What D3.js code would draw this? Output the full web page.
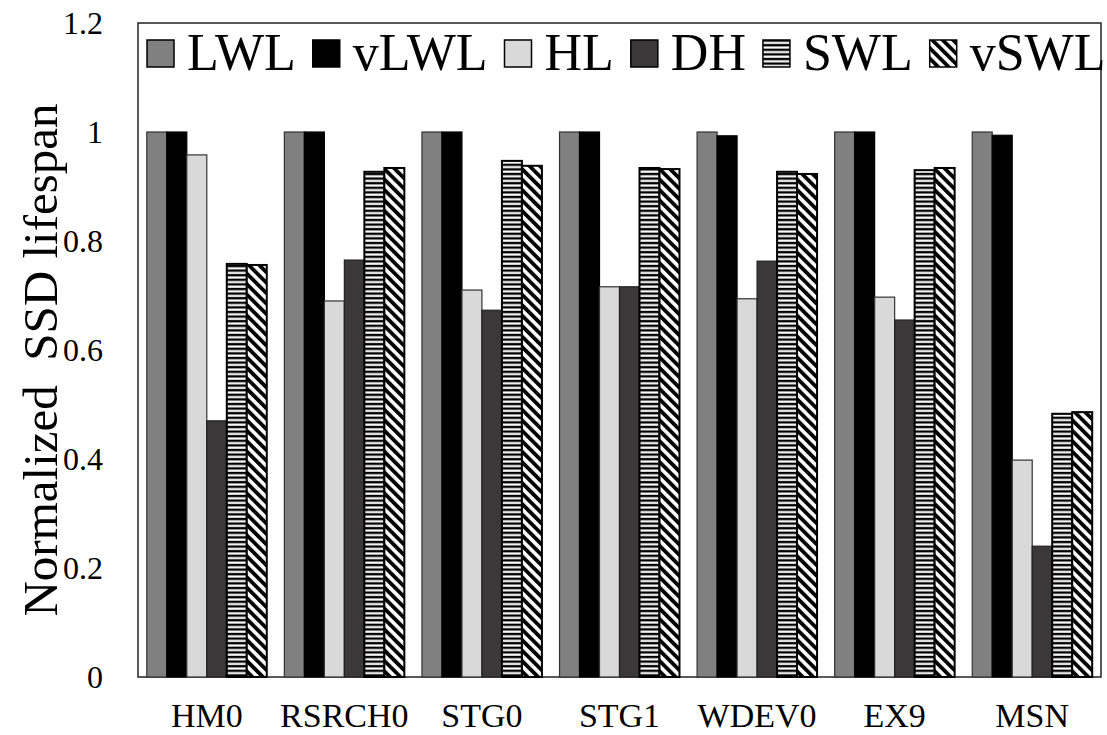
<!DOCTYPE html>
<html>
<head>
<meta charset="utf-8">
<script src="https://cdn.jsdelivr.net/npm/d3@7/dist/d3.min.js"></script>
<style>
  html, body { margin: 0; padding: 0; background: #fff; }
  svg { display: block; }
  text { font-family: "Liberation Serif", "Times New Roman", serif; fill: #000; }
</style>
</head>
<body>
<svg id="chart" width="1107" height="735"></svg>
<script>
// Workload traces on the x axis
const categories = ["HM0", "RSRCH0", "STG0", "STG1", "WDEV0", "EX9", "MSN"];
// Wear-leveling schemes compared
const seriesNames = ["LWL", "vLWL", "HL", "DH", "SWL", "vSWL"];
// Normalized SSD lifespan per scheme, one value per trace
const LWL  = [1, 1, 1, 1, 1, 1, 1];
const vLWL = [1, 1, 1, 1, 0.993, 1, 0.994];
const HL   = [0.958, 0.690, 0.710, 0.716, 0.694, 0.697, 0.398];
const DH   = [0.470, 0.765, 0.673, 0.716, 0.763, 0.655, 0.240];
const SWL  = [0.758, 0.927, 0.947, 0.934, 0.927, 0.930, 0.483];
const vSWL = [0.756, 0.934, 0.938, 0.932, 0.923, 0.934, 0.486];
const yTicks = [0, 0.2, 0.4, 0.6, 0.8, 1, 1.2];
const yTickLabels = ["0", "0.2", "0.4", "0.6", "0.8", "1", "1.2"];
const yTitle = "Normalized  SSD lifespan";

const seriesValues = { LWL, vLWL, HL, DH, SWL, vSWL };

const svg = d3.select("#chart");
const frame = { left: 138, right: 1101, top: 23, bottom: 677 };

const defs = svg.append("defs");
// horizontal stripes
const hp = defs.append("pattern")
  .attr("id", "pat-h").attr("patternUnits", "userSpaceOnUse")
  .attr("width", 8).attr("height", 4.6);
hp.append("rect").attr("width", 8).attr("height", 4.6).attr("fill", "#000");
hp.append("rect").attr("y", 0.4).attr("width", 8).attr("height", 2.2).attr("fill", "#fff");
// diagonal stripes, falling to the right
const dp = defs.append("pattern")
  .attr("id", "pat-d").attr("patternUnits", "userSpaceOnUse")
  .attr("width", 8).attr("height", 7.4)
  .attr("patternTransform", "rotate(45)");
dp.append("rect").attr("width", 8).attr("height", 7.4).attr("fill", "#000");
dp.append("rect").attr("y", 0).attr("width", 8).attr("height", 3.6).attr("fill", "#fff");

const styles = {
  LWL:  { fill: "#808080", stroke: "#333", sw: 1.2 },
  vLWL: { fill: "#000000", stroke: "#000", sw: 1.2 },
  HL:   { fill: "#d9d9d9", stroke: "#333", sw: 1.2 },
  DH:   { fill: "#3a3838", stroke: "#222", sw: 1.2 },
  SWL:  { fill: "url(#pat-h)", stroke: "#000", sw: 2 },
  vSWL: { fill: "url(#pat-d)", stroke: "#000", sw: 2 }
};

const x0 = d3.scaleBand().domain(categories).range([frame.left, frame.right]);
const x1 = d3.scaleBand().domain(seriesNames).range([0, x0.bandwidth()]).paddingOuter(0.44);
const y = d3.scaleLinear().domain([0, 1.2]).range([frame.bottom, frame.top]);

// plot area border
svg.append("rect")
  .attr("x", frame.left).attr("y", frame.top)
  .attr("width", frame.right - frame.left).attr("height", frame.bottom - frame.top)
  .attr("fill", "none").attr("stroke", "#222").attr("stroke-width", 1.5);

// bars
const groups = svg.append("g").selectAll("g")
  .data(categories).join("g")
  .attr("transform", d => `translate(${x0(d)},0)`);

groups.selectAll("rect")
  .data((c, i) => seriesNames.map(s => ({ s, v: seriesValues[s][i] })))
  .join("rect")
  .attr("x", d => x1(d.s))
  .attr("y", d => y(d.v))
  .attr("width", x1.bandwidth())
  .attr("height", d => y(0) - y(d.v))
  .attr("fill", d => styles[d.s].fill)
  .attr("stroke", d => styles[d.s].stroke)
  .attr("stroke-width", d => styles[d.s].sw);

// y axis labels
const yAxis = d3.axisLeft(y).tickValues(yTicks)
  .tickFormat((d, i) => yTickLabels[i]).tickSize(0).tickPadding(35);
const gy = svg.append("g").attr("transform", `translate(${frame.left},0)`).call(yAxis);
gy.select(".domain").remove();
gy.selectAll("text").style("font-family", "'Liberation Serif', serif").style("font-size", "32px");

// x axis labels
const xAxis = d3.axisBottom(x0).tickSize(0).tickPadding(26);
const gx = svg.append("g").attr("transform", `translate(0,${frame.bottom})`).call(xAxis);
gx.select(".domain").remove();
gx.selectAll("text").style("font-family", "'Liberation Serif', serif").style("font-size", "34px");

// y axis title
svg.append("text")
  .attr("transform", `translate(46,${(frame.top + frame.bottom) / 2 + 10}) rotate(-90)`)
  .attr("text-anchor", "middle")
  .attr("dominant-baseline", "middle")
  .attr("xml:space", "preserve")
  .style("white-space", "pre")
  .style("font-size", "49px")
  .text(yTitle);

// legend along the top of the plot area
const legend = svg.append("g");
let cursor = 147;
const sq = 27;
seriesNames.forEach(s => {
  legend.append("rect")
    .attr("x", cursor).attr("y", 40)
    .attr("width", sq).attr("height", sq)
    .attr("fill", styles[s].fill)
    .attr("stroke", "#000").attr("stroke-width", 1.5);
  cursor += sq + 13;
  const t = legend.append("text")
    .attr("x", cursor).attr("y", 70)
    .style("font-size", "52px")
    .text(s);
  cursor += t.node().getComputedTextLength() + 17;
});
</script>
</body>
</html>
